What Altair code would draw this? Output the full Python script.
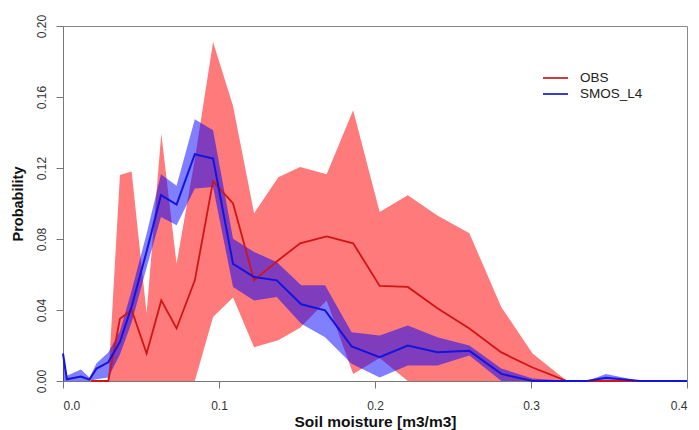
import altair as alt
import pandas as pd

# ---- data ----
obs_x    = [0.018, 0.029, 0.0365, 0.044, 0.0536, 0.063, 0.0728, 0.0845, 0.0962, 0.109, 0.1225, 0.138, 0.152, 0.169, 0.186, 0.203, 0.221, 0.240, 0.2605, 0.281, 0.301, 0.323, 0.400]
obs_mean = [0.0,   0.0,   0.035,  0.040, 0.0155, 0.0454, 0.0296, 0.0567, 0.1126, 0.100, 0.0567, 0.068, 0.0776, 0.0815, 0.0776, 0.0536, 0.053, 0.041, 0.0296, 0.0161, 0.0076, 0.0, 0.0]
obs_lo   = [0.0,   0.0,   0.0,    0.0,   0.0,    0.0,    0.0,    0.0,    0.036,  0.047, 0.019,  0.023, 0.030,  0.0454, 0.004,  0.013,  0.0,   0.0,   0.0,    0.0,    0.0,    0.0, 0.0]
obs_hi   = [0.0,   0.0,   0.116,  0.118, 0.038,  0.1395, 0.066,  0.125,  0.191,  0.155, 0.0945, 0.1148, 0.1205, 0.1165, 0.1526, 0.0952, 0.1046, 0.0933, 0.0832, 0.0416, 0.0155, 0.0, 0.0]

smos_x    = [0.0,    0.0025, 0.0115, 0.017,  0.0215, 0.029,  0.0365, 0.044, 0.0536, 0.0628, 0.0728, 0.0845, 0.0962, 0.109,  0.1225, 0.137,  0.1527, 0.168,  0.185,  0.203,  0.221,  0.240,  0.2605, 0.281, 0.301,  0.325, 0.336, 0.348,  0.370, 0.400]
smos_mean = [0.0155, 0.001,  0.0025, 0.0008, 0.007,  0.0105, 0.022,  0.042, 0.073,  0.1047, 0.0994, 0.1278, 0.1253, 0.066,  0.0586, 0.0567, 0.0432, 0.0398, 0.0195, 0.0134, 0.020,  0.0162, 0.017,  0.004, 0.0,    0.0,   0.0,   0.0018, 0.0,   0.0]
smos_lo   = [0.0,    0.0,    0.0,    0.0,    0.001,  0.002,  0.015,  0.033, 0.064,  0.0924, 0.0877, 0.1084, 0.1093, 0.053,  0.0454, 0.0473, 0.0323, 0.0247, 0.0097, 0.002,  0.0087, 0.0087, 0.0144, 0.0,   0.0,    0.0,   0.0,   0.0,    0.0,   0.0]
smos_hi   = [0.016,  0.003,  0.0065, 0.002,  0.010,  0.016,  0.028,  0.051, 0.083,  0.1165, 0.110,  0.1474, 0.1413, 0.0802, 0.0727, 0.067,  0.0539, 0.0539, 0.0275, 0.0257, 0.0313, 0.0247, 0.020,  0.007, 0.0014, 0.0,   0.0,   0.004,  0.0,   0.0]

series_names = ["OBS", "SMOS_L4"]
x_ticks = [0.0, 0.1, 0.2, 0.3, 0.4]
y_ticks = [0.0, 0.02, 0.04, 0.06, 0.08, 0.10, 0.12, 0.14, 0.16, 0.18, 0.20]

FONT = "Liberation Sans"
RED_FILL, BLUE_FILL = "#ff0000", "#0000ff"
RED_LINE, BLUE_LINE = "#d01515", "#1414dc"

obs = pd.DataFrame({"x": obs_x, "mean": obs_mean, "lo": obs_lo, "hi": obs_hi})
smos = pd.DataFrame({"x": smos_x, "mean": smos_mean, "lo": smos_lo, "hi": smos_hi})

xscale = alt.Scale(domain=[0, 0.4], nice=False, zero=False)
yscale = alt.Scale(domain=[0, 0.2], nice=False)

xaxis = alt.Axis(values=x_ticks, format=".1f", title="Soil moisture [m3/m3]",
                 grid=False, tickSize=7, labelPadding=12, labelFontSize=12,
                 labelFont=FONT, labelColor="#333333", domainColor="#777777",
                 tickColor="#777777", titleFont=FONT, titleFontSize=15.5,
                 titleFontWeight="bold", titleColor="#111111",
                 titleX=312, titleY=40, titleBaseline="middle", titleAlign="center")
yaxis = alt.Axis(values=y_ticks,
                 labelExpr="round(datum.value*100) % 4 == 0 ? format(datum.value, '.2f') : ''",
                 title="Probability", grid=False, tickSize=7, labelPadding=8,
                 labelAngle=270, labelAlign="center", labelBaseline="bottom",
                 labelFontSize=12, labelFont=FONT, labelColor="#333333",
                 domainColor="#777777", tickColor="#777777",
                 titleFont=FONT, titleFontSize=14.5, titleFontWeight="bold",
                 titleColor="#111111", titleAngle=270, titleX=-45, titleY=177.5,
                 titleAlign="center", titleBaseline="middle")

red_band = alt.Chart(obs).mark_area(color=RED_FILL, opacity=0.52).encode(
    x=alt.X("x:Q", scale=xscale, axis=xaxis),
    y=alt.Y("lo:Q", scale=yscale, axis=yaxis),
    y2="hi:Q",
)
blue_band = alt.Chart(smos).mark_area(color=BLUE_FILL, opacity=0.5).encode(
    x="x:Q", y="lo:Q", y2="hi:Q"
)
red_line = alt.Chart(obs).mark_line(color=RED_LINE, strokeWidth=1.8).encode(
    x="x:Q", y="mean:Q"
)
blue_line = alt.Chart(smos).mark_line(color=BLUE_LINE, strokeWidth=2).encode(
    x="x:Q", y="mean:Q"
)

leg_colors = ["#d43a3a", "#3a3ad4"]
leg_y = [52, 68]
legend_layers = []
for name, col, ly in zip(series_names, leg_colors, leg_y):
    d = pd.DataFrame({"name": [name]})
    legend_layers.append(
        alt.Chart(d).mark_rule(color=col, strokeWidth=2).encode(
            x=alt.value(480), x2=alt.value(505), y=alt.value(ly))
    )
    legend_layers.append(
        alt.Chart(d).mark_text(align="left", baseline="middle", font=FONT,
                               fontSize=13.5, color="#222222").encode(
            text="name:N", x=alt.value(517), y=alt.value(ly))
    )

chart = alt.layer(red_band, blue_band, red_line, blue_line, *legend_layers).properties(
    width=624, height=355,
    autosize=alt.AutoSizeParams(type="none"),
    padding={"left": 55, "top": 18, "right": 4, "bottom": 50},
).configure_view(stroke="#888888", strokeWidth=1)

chart.save("out.html", embed_options={"renderer": "svg", "actions": False})
